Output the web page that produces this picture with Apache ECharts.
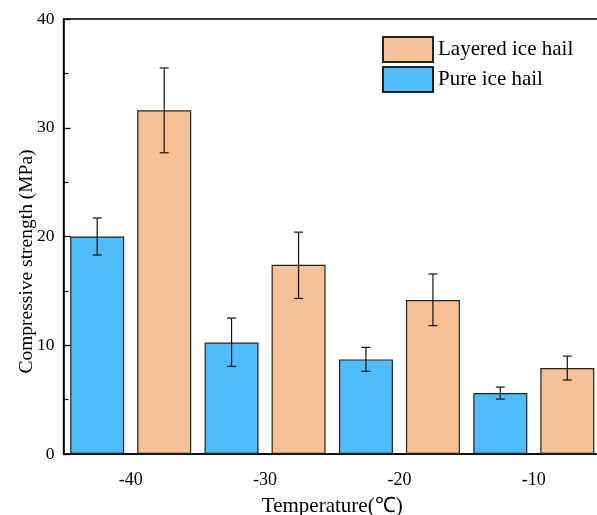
<!DOCTYPE html>
<html><head><meta charset="utf-8">
<script src="https://cdn.jsdelivr.net/npm/echarts@6/dist/echarts.min.js"></script>
<style>html,body{margin:0;padding:0;background:#fff}#c{width:597px;height:515px}</style>
</head><body><div id="c"></div>
<script>
var categories = ['-40', '-30', '-20', '-10'];
var pureValues = [20.0, 10.25, 8.7, 5.6];
var pureErrLow = [18.3, 8.05, 7.6, 5.05];
var pureErrHigh = [21.7, 12.5, 9.8, 6.15];
var layeredValues = [31.6, 17.4, 14.15, 7.9];
var layeredErrLow = [27.7, 14.3, 11.8, 6.8];
var layeredErrHigh = [35.5, 20.4, 16.55, 9.0];
var yTicks = [0, 10, 20, 30, 40];

var FONT = '"Liberation Serif","Times New Roman",serif';
var BAR_W = 54, GAP = 13;

function errSeries(name, low, high, sign) {
  return {
    type: 'custom', name: name + ' err', z: 10, silent: true,
    data: categories.map(function (c, i) { return [i, low[i], high[i]]; }),
    renderItem: function (params, api) {
      var i = api.value(0);
      var lo = api.coord([i, api.value(1)]);
      var hi = api.coord([i, api.value(2)]);
      var x = lo[0] + sign * (BAR_W + GAP) / 2;
      var cap = 4.5;
      var st = { stroke: '#111', lineWidth: 1.2, fill: null };
      return { type: 'group', children: [
        { type: 'line', shape: { x1: x, y1: hi[1], x2: x, y2: lo[1] }, style: st },
        { type: 'line', shape: { x1: x - cap, y1: hi[1], x2: x + cap, y2: hi[1] }, style: st },
        { type: 'line', shape: { x1: x - cap, y1: lo[1], x2: x + cap, y2: lo[1] }, style: st }
      ]};
    }
  };
}

var chart = echarts.init(document.getElementById('c'), null, { renderer: 'canvas' });
chart.setOption({
  animation: false,
  textStyle: { fontFamily: FONT },
  grid: { left: 63.5, right: -4, top: 19, bottom: 61, show: true, borderColor: '#000', borderWidth: 1.3,
          containLabel: false, outerBoundsMode: 'none' },
  legend: {
    orient: 'vertical', left: 382, top: 36, padding: 0, itemWidth: 50, itemHeight: 25, itemGap: 3,
    data: ['Layered ice hail', 'Pure ice hail'],
    textStyle: { fontFamily: FONT, fontSize: 21, color: '#000', padding: [0, 0, 0, 0] },
    icon: 'rect'
  },
  xAxis: {
    type: 'category', data: categories,
    name: 'Temperature(℃)', nameLocation: 'middle', nameGap: 42,
    nameTextStyle: { fontFamily: FONT, fontSize: 21, color: '#000' },
    axisLine: { lineStyle: { color: '#000', width: 1.6 } },
    axisTick: { alignWithLabel: true, inside: true, length: 6, lineStyle: { color: '#000', width: 1.3 } },
    axisLabel: { fontFamily: FONT, fontSize: 18, color: '#000', margin: 17 }
  },
  yAxis: {
    type: 'value', min: 0, max: 40, interval: 10,
    name: 'Compressive strength (MPa)', nameLocation: 'middle', nameGap: 27, nameMoveOverlap: false,
    nameTextStyle: { fontFamily: FONT, fontSize: 19.5, color: '#000', padding: [0, 50, 0, 0] },
    axisLine: { show: true, lineStyle: { color: '#000', width: 1.6 } },
    axisTick: { show: true, inside: true, length: 7, lineStyle: { color: '#000', width: 1.3 } },
    minorTick: { show: true, splitNumber: 2, length: 5, lineStyle: { color: '#000', width: 1.2 } },
    splitLine: { show: false },
    axisLabel: { fontFamily: FONT, fontSize: 17.5, color: '#000', margin: 9,
      formatter: function (v) { return yTicks.indexOf(v) >= 0 ? String(v) : ''; } }
  },
  series: [
    { type: 'bar', name: 'Pure ice hail', data: pureValues, barWidth: BAR_W, barGap: (GAP / BAR_W * 100) + '%',
      itemStyle: { color: '#50BCFF', borderColor: '#222', borderWidth: 1.2 } },
    { type: 'bar', name: 'Layered ice hail', data: layeredValues, barWidth: BAR_W,
      itemStyle: { color: '#F7C095', borderColor: '#222', borderWidth: 1.2 } },
    errSeries('Pure ice hail', pureErrLow, pureErrHigh, -1),
    errSeries('Layered ice hail', layeredErrLow, layeredErrHigh, 1)
  ]
});
</script></body></html>
